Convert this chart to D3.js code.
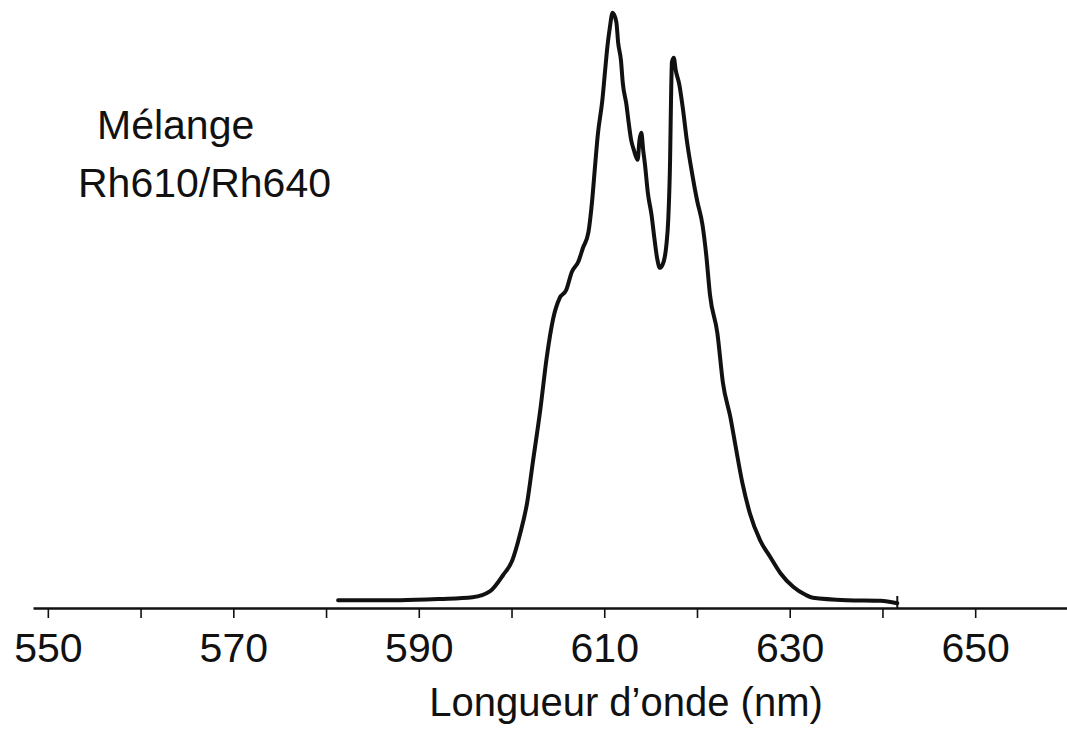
<!DOCTYPE html>
<html>
<head>
<meta charset="utf-8">
<script src="https://cdn.jsdelivr.net/npm/d3@7"></script>
<style>
  body { margin: 0; background: #fff; }
  svg { display: block; font-family: "Liberation Sans", Arial, sans-serif; }
  .line { fill: none; stroke: #111; stroke-width: 4; stroke-linejoin: round; stroke-linecap: round; }
  .axis path, .axis line { stroke: #111; }
  .axis path { stroke-width: 2.5; }
  .axis line { stroke-width: 1.6; }
  .axis text { font-size: 41px; fill: #111; }
</style>
</head>
<body>
<svg width="1067" height="739"></svg>
<script>
// wavelength (nm)
var wavelength = [581.3, 588.0, 592.3, 595.8, 597.7, 599.1, 600.1, 600.9, 601.7, 602.3,
  603.1, 603.8, 604.5, 605.2, 605.9, 606.5, 607.2, 607.7, 608.3, 608.7,
  609.0, 609.3, 609.8, 610.1, 610.3, 610.6, 610.9, 611.3, 611.5, 611.8,
  612.0, 612.4, 612.6, 612.9, 613.2, 613.6, 613.8, 614.0, 614.2, 614.4,
  614.7, 615.1, 615.4, 615.7, 616.0, 616.4, 616.7, 616.9, 617.1, 617.2,
  617.3, 617.5, 617.7, 618.1, 618.5, 618.9, 619.5, 620.0, 620.6, 621.0,
  621.4, 622.2, 622.8, 623.6, 624.1, 624.9, 625.7, 626.8, 627.9, 629.0,
  630.4, 631.7, 632.5, 636.2, 639.8, 641.6];

// intensity (arb. units)
var intensity = [0.013, 0.013, 0.015, 0.018, 0.028, 0.055, 0.080, 0.122, 0.177, 0.243,
  0.330, 0.418, 0.483, 0.517, 0.530, 0.560, 0.577, 0.600, 0.627, 0.680,
  0.735, 0.788, 0.847, 0.897, 0.930, 0.967, 0.992, 0.977, 0.942, 0.913,
  0.875, 0.838, 0.813, 0.780, 0.763, 0.747, 0.780, 0.792, 0.763, 0.738,
  0.692, 0.655, 0.617, 0.583, 0.567, 0.577, 0.605, 0.647, 0.747, 0.847,
  0.910, 0.917, 0.897, 0.872, 0.830, 0.780, 0.722, 0.680, 0.638, 0.588,
  0.522, 0.458, 0.375, 0.318, 0.275, 0.208, 0.158, 0.113, 0.085, 0.058,
  0.035, 0.022, 0.017, 0.013, 0.012, 0.008];

var tickValues = [550, 560, 570, 580, 590, 600, 610, 620, 630, 640, 650];
var labelledTicks = [550, 570, 590, 610, 630, 650];

var legendLines = ["Mélange", "Rh610/Rh640"];
var xTitle = "Longueur d\u2019onde (nm)";

var data = wavelength.map(function(w, i) { return { x: w, y: intensity[i] }; });

var svg = d3.select("svg");

var xScale = d3.scaleLinear()
    .domain([548.4, 659.9])
    .range([33, 1067]);

var yScale = d3.scaleLinear()
    .domain([0, 1])
    .range([608, 8]);

// x axis
svg.append("g")
    .attr("class", "axis")
    .attr("transform", "translate(0," + yScale(0) + ")")
    .call(d3.axisBottom(xScale)
      .tickValues(tickValues)
      .tickSize(10)
      .tickSizeOuter(0)
      .tickPadding(15)
      .tickFormat(function(d) { return labelledTicks.indexOf(d) >= 0 ? d : ""; }));

// spectrum
var line = d3.line()
    .x(function(d) { return xScale(d.x); })
    .y(function(d) { return yScale(d.y); })
    .curve(d3.curveMonotoneX);

svg.append("path")
    .datum(data)
    .attr("class", "line")
    .attr("d", line);

// little end mark of the scan
var last = data[data.length - 1];
svg.append("line")
    .attr("x1", xScale(last.x)).attr("x2", xScale(last.x))
    .attr("y1", yScale(0)).attr("y2", yScale(0.02))
    .attr("stroke", "#111").attr("stroke-width", 2);

// label
svg.append("text")
    .attr("x", 97).attr("y", 139)
    .attr("font-size", 41).attr("fill", "#111")
    .text(legendLines[0]);
svg.append("text")
    .attr("x", 78).attr("y", 197)
    .attr("font-size", 41).attr("fill", "#111")
    .text(legendLines[1]);

// axis title
svg.append("text")
    .attr("x", 626).attr("y", 716)
    .attr("text-anchor", "middle")
    .attr("font-size", 40).attr("fill", "#111")
    .text(xTitle);
</script>
</body>
</html>
